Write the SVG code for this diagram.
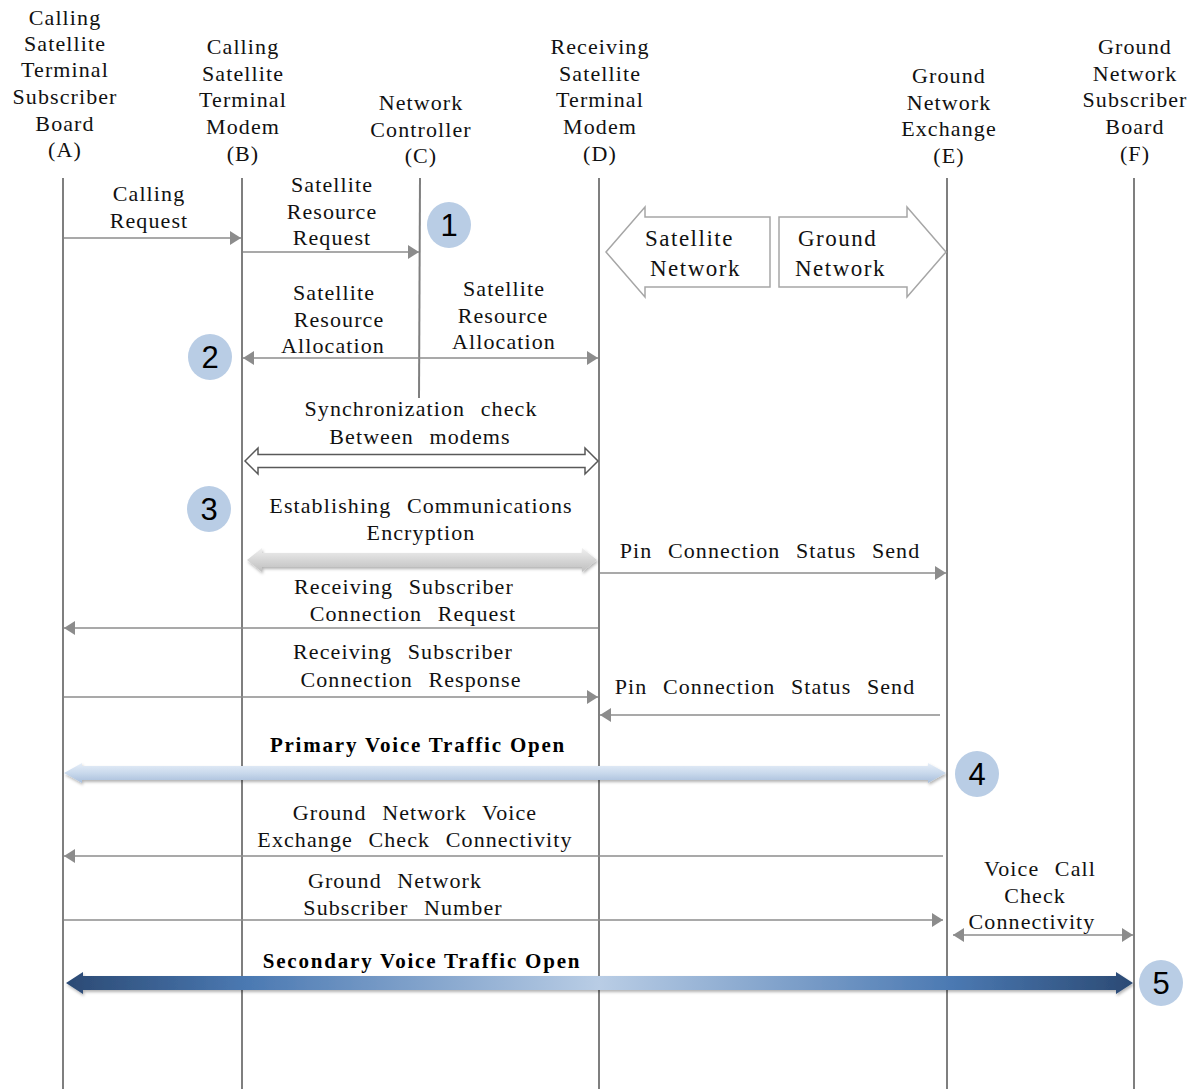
<svg xmlns="http://www.w3.org/2000/svg" width="1200" height="1089" viewBox="0 0 1200 1089">
<style>
.t{font-family:"Liberation Serif","Times New Roman",serif;font-size:22px;letter-spacing:1.1px;fill:#111;text-anchor:middle}
.m{word-spacing:9px}
.b{font-family:"Liberation Serif","Times New Roman",serif;font-size:21px;font-weight:bold;letter-spacing:1.8px;fill:#000;text-anchor:middle}
.bl{font-family:"Liberation Serif","Times New Roman",serif;font-size:23px;letter-spacing:1.5px;fill:#111}
.life{stroke:#7f7f7f;stroke-width:2;fill:none}
.msg{stroke:#8c8c8c;stroke-width:1.5;fill:none}
.one{marker-end:url(#ah)}
.two{marker-start:url(#ah);marker-end:url(#ah)}
.num{fill:#b9cde5}
.nt{font-family:"Liberation Sans",Arial,sans-serif;font-size:31px;fill:#000;text-anchor:middle}
.blk{fill:#fff;stroke:#a6a6a6;stroke-width:1.5}
</style>
<defs>
<marker id="ah" markerUnits="userSpaceOnUse" markerWidth="11" markerHeight="14" refX="11" refY="7" orient="auto-start-reverse" viewBox="0 0 11 14">
<path d="M0,0 L11,7 L0,14 z" fill="#8c8c8c"/>
</marker>
<linearGradient id="gGray" x1="0" y1="0" x2="0" y2="1">
<stop offset="0" stop-color="#f0f0f0"/><stop offset="0.5" stop-color="#d6d6d6"/><stop offset="1" stop-color="#bfbfbf"/>
</linearGradient>
<linearGradient id="gPri" x1="0" y1="0" x2="0" y2="1">
<stop offset="0" stop-color="#e6eef8"/><stop offset="0.5" stop-color="#c9d9ec"/><stop offset="1" stop-color="#a8bedb"/>
</linearGradient>
<linearGradient id="gSec" gradientUnits="userSpaceOnUse" x1="66" y1="0" x2="1133" y2="0">
<stop offset="0" stop-color="#2b4a74"/><stop offset="0.17" stop-color="#4b79b2"/><stop offset="0.5" stop-color="#b9cde5"/><stop offset="0.83" stop-color="#4b79b2"/><stop offset="1" stop-color="#2b4a74"/>
</linearGradient>
<filter id="sh" x="-5%" y="-50%" width="110%" height="200%">
<feDropShadow dx="1" dy="2" stdDeviation="1.5" flood-color="#000" flood-opacity="0.3"/>
</filter>
</defs>

<g id="nodeA">
<line class="life" x1="63" y1="178" x2="63" y2="1089"/>
<text class="t" x="65" y="25">Calling</text>
<text class="t" x="65" y="51">Satellite</text>
<text class="t" x="65" y="77">Terminal</text>
<text class="t" x="65" y="104">Subscriber</text>
<text class="t" x="65" y="131">Board</text>
<text class="t" x="65" y="157">(A)</text>
</g>
<g id="nodeB">
<line class="life" x1="242" y1="178" x2="242" y2="1089"/>
<text class="t" x="243" y="54">Calling</text>
<text class="t" x="243" y="81">Satellite</text>
<text class="t" x="243" y="107">Terminal</text>
<text class="t" x="243" y="134">Modem</text>
<text class="t" x="243" y="161">(B)</text>
</g>
<g id="nodeC">
<line class="life" x1="420" y1="178" x2="419" y2="398"/>
<text class="t" x="421" y="110">Network</text>
<text class="t" x="421" y="137">Controller</text>
<text class="t" x="421" y="163">(C)</text>
</g>
<g id="nodeD">
<line class="life" x1="599" y1="178" x2="599" y2="1089"/>
<text class="t" x="600" y="54">Receiving</text>
<text class="t" x="600" y="81">Satellite</text>
<text class="t" x="600" y="107">Terminal</text>
<text class="t" x="600" y="134">Modem</text>
<text class="t" x="600" y="161">(D)</text>
</g>
<g id="nodeE">
<line class="life" x1="947" y1="178" x2="947" y2="1089"/>
<text class="t" x="949" y="83">Ground</text>
<text class="t" x="949" y="110">Network</text>
<text class="t" x="949" y="136">Exchange</text>
<text class="t" x="949" y="163">(E)</text>
</g>
<g id="nodeF">
<line class="life" x1="1134" y1="178" x2="1134" y2="1089"/>
<text class="t" x="1135" y="54">Ground</text>
<text class="t" x="1135" y="81">Network</text>
<text class="t" x="1135" y="107">Subscriber</text>
<text class="t" x="1135" y="134">Board</text>
<text class="t" x="1135" y="161">(F)</text>
</g>

<g id="networkArrows">
<polygon class="blk" points="606,252 645,207 645,217 770,217 770,287 645,287 645,297"/>
<text class="bl" x="645" y="246">Satellite</text>
<text class="bl" x="650" y="276">Network</text>
<polygon class="blk" points="779,217 907,217 907,207 946,252 907,297 907,287 779,287"/>
<text class="bl" x="798" y="246">Ground</text>
<text class="bl" x="795" y="276">Network</text>
</g>

<g id="steps">
<ellipse class="num" cx="449" cy="225" rx="22" ry="23"/><text class="nt" x="449" y="236">1</text>
<ellipse class="num" cx="210" cy="357" rx="22" ry="23"/><text class="nt" x="210" y="368">2</text>
<ellipse class="num" cx="209" cy="509" rx="22" ry="23"/><text class="nt" x="209" y="520">3</text>
<ellipse class="num" cx="977" cy="774" rx="22" ry="23"/><text class="nt" x="977" y="785">4</text>
<ellipse class="num" cx="1161" cy="983" rx="22" ry="23"/><text class="nt" x="1161" y="994">5</text>
</g>

<g id="connectors">
<line class="msg one" x1="64" y1="238" x2="241" y2="238"/>
<text class="t m" x="149" y="201">Calling</text>
<text class="t m" x="149" y="228">Request</text>

<line class="msg one" x1="243" y1="252" x2="419" y2="252"/>
<text class="t m" x="332" y="192">Satellite</text>
<text class="t m" x="332" y="219">Resource</text>
<text class="t m" x="332" y="245">Request</text>

<line class="msg two" x1="243" y1="358" x2="598" y2="358"/>
<text class="t m" x="334" y="300">Satellite</text>
<text class="t m" x="339" y="327">Resource</text>
<text class="t m" x="333" y="353">Allocation</text>
<text class="t m" x="504" y="296">Satellite</text>
<text class="t m" x="503" y="323">Resource</text>
<text class="t m" x="504" y="349">Allocation</text>

<polygon points="245,461 258,448 258,454.5 585,454.5 585,448 598,461 585,474 585,467.5 258,467.5 258,474" fill="#fff" stroke="#595959" stroke-width="1.5"/>
<text class="t m" x="421" y="416">Synchronization check</text>
<text class="t m" x="420" y="444">Between modems</text>

<polygon points="247,560 262,548 262,553 582,553 582,548 597,560 582,572 582,567 262,567 262,572" fill="url(#gGray)" filter="url(#sh)"/>
<text class="t m" x="421" y="513">Establishing Communications</text>
<text class="t m" x="421" y="540">Encryption</text>

<line class="msg one" x1="600" y1="573" x2="946" y2="573"/>
<text class="t m" x="770" y="558">Pin Connection Status Send</text>

<line class="msg one" x1="598" y1="628" x2="64" y2="628"/>
<text class="t m" x="404" y="594">Receiving Subscriber</text>
<text class="t m" x="413" y="621">Connection Request</text>

<line class="msg one" x1="64" y1="697" x2="598" y2="697"/>
<text class="t m" x="403" y="659">Receiving Subscriber</text>
<text class="t m" x="411" y="687">Connection Response</text>

<line class="msg one" x1="940" y1="715" x2="600" y2="715"/>
<text class="t m" x="765" y="694">Pin Connection Status Send</text>

<polygon points="64,773 82,763 82,766 928,766 928,763 946,773 928,783 928,780 82,780 82,783" fill="url(#gPri)" filter="url(#sh)"/>
<text class="b" x="418" y="752">Primary Voice Traffic Open</text>

<line class="msg one" x1="943" y1="856" x2="64" y2="856"/>
<text class="t m" x="415" y="820">Ground Network Voice</text>
<text class="t m" x="415" y="847">Exchange Check Connectivity</text>

<line class="msg one" x1="64" y1="920" x2="943" y2="920"/>
<text class="t m" x="395" y="888">Ground Network</text>
<text class="t m" x="403" y="915">Subscriber Number</text>

<line class="msg two" x1="953" y1="935" x2="1133" y2="935"/>
<text class="t m" x="1040" y="876">Voice Call</text>
<text class="t m" x="1035" y="903">Check</text>
<text class="t m" x="1032" y="929">Connectivity</text>

<polygon points="66,983 83,972 83,976 1116,976 1116,972 1133,983 1116,994 1116,990 83,990 83,994" fill="url(#gSec)" filter="url(#sh)"/>
<text class="b" x="422" y="968">Secondary Voice Traffic Open</text>
</g>
</svg>
